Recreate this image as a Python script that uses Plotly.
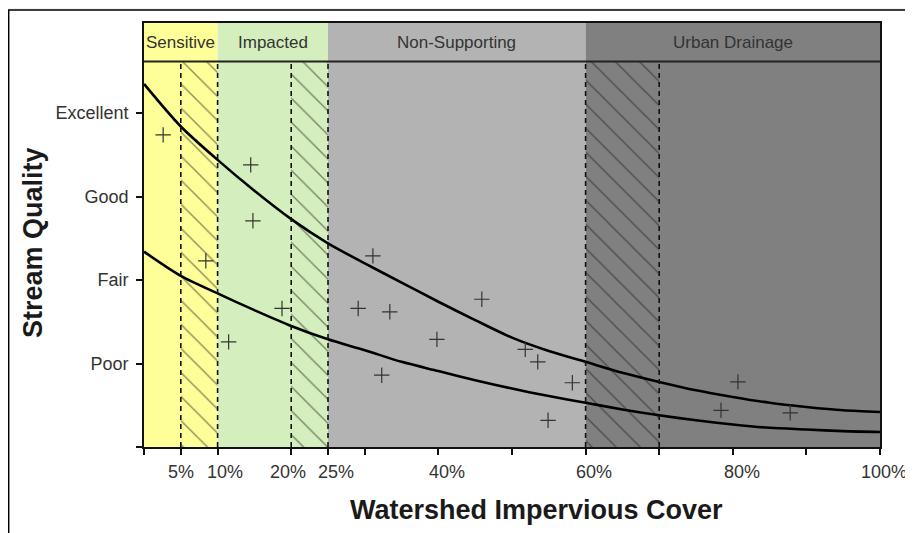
import plotly.graph_objects as go

# ---------------- data ----------------
ZONE_NAMES = ["Sensitive", "Impacted", "Non-Supporting", "Urban Drainage"]
ZONE_START = [0, 10, 25, 60]
ZONE_END = [10, 25, 60, 100]
ZONE_COLORS = ["#ffff99", "#d5eebd", "#b3b3b3", "#808080"]

TRANSITION_START = [5, 20, 60]
TRANSITION_END = [10, 25, 70]

QUALITY_LEVELS = ["", "Poor", "Fair", "Good", "Excellent"]
QUALITY_VALUES = [0, 1, 2, 3, 4]

X_TICK_VALUES = [0, 5, 10, 20, 25, 30, 40, 50, 60, 70, 80, 90, 100]
X_LABEL_VALUES = [5, 10, 20, 25, 40, 60, 80, 100]
X_LABEL_TEXT = ["5%", "10%", "20%", "25%", "40%", "60%", "80%", "100%"]

CURVE_X = [0, 5, 10, 15, 20, 25, 30, 35, 40, 45, 50, 55, 60, 65, 70, 75, 80, 85, 90, 95, 100]
UPPER_Y = [4.35, 3.84, 3.44, 3.07, 2.73, 2.44, 2.20, 1.97, 1.74, 1.52, 1.31, 1.15, 1.02,
           0.89, 0.78, 0.68, 0.60, 0.53, 0.48, 0.44, 0.42]
LOWER_Y = [2.34, 2.05, 1.84, 1.64, 1.45, 1.29, 1.16, 1.02, 0.91, 0.80, 0.70, 0.61, 0.53,
           0.45, 0.38, 0.32, 0.27, 0.23, 0.21, 0.19, 0.18]

SITE_X = [2.6, 14.5, 14.8, 8.4, 18.75, 11.5, 31.1, 29.1, 33.4, 32.3, 39.8, 45.9,
          51.8, 53.5, 58.2, 54.9, 80.7, 78.4, 87.8]
SITE_Y = [3.74, 3.38, 2.71, 2.23, 1.66, 1.26, 2.29, 1.66, 1.62, 0.86, 1.29, 1.77,
          1.17, 1.02, 0.77, 0.32, 0.78, 0.44, 0.41]

PLOT_TOP = 4.62     # top of data area (bottom of header band)
HEADER_TOP = 5.08   # top of header band

# ---------------- geometry (page has an 8px body margin) ----------------
OFF = 8
W, H = 913 - OFF, 533 - OFF
ML, MR, MT, MB = 144 - OFF, 33, 23 - OFF, 86
PW, PH = W - ML - MR, H - MT - MB


def px_x(p):  # window pixel -> paper x
    return (p - OFF - ML) / PW


def px_y(p):  # window pixel -> paper y
    return (H - MB - (p - OFF)) / PH


LABEL_SHIFTS = [0, 7, -3, 8, 9, 8, 9, 4]
FONT = "Liberation Sans, Arial, sans-serif"

fig = go.Figure()

# hatched transition zones
fig.add_trace(go.Bar(
    x=[(a + b) / 2 for a, b in zip(TRANSITION_START, TRANSITION_END)],
    y=[PLOT_TOP] * len(TRANSITION_START),
    width=[b - a for a, b in zip(TRANSITION_START, TRANSITION_END)],
    marker=dict(color="rgba(0,0,0,0)", line=dict(width=0),
                pattern=dict(shape="\\", fgcolor="#1a1a1a", bgcolor="rgba(0,0,0,0)",
                             size=17, solidity=0.08)),
    hoverinfo="skip", showlegend=False,
))

# curves
for ys in (UPPER_Y, LOWER_Y):
    fig.add_trace(go.Scatter(x=CURVE_X, y=ys, mode="lines",
                             line=dict(color="#000000", width=2.6, shape="spline", smoothing=0.8),
                             showlegend=False))

# sites
fig.add_trace(go.Scatter(x=SITE_X, y=SITE_Y, mode="markers",
                         marker=dict(symbol="cross-thin", size=11,
                                     line=dict(color="#333333", width=1.2)),
                         showlegend=False))

shapes = []
# outer white frame
shapes.append(dict(type="rect", xref="paper", yref="paper",
                   x0=px_x(8.7), x1=px_x(1000), y0=px_y(800), y1=px_y(10),
                   fillcolor="#ffffff", line=dict(color="#000000", width=1.5), layer="below"))

for s, e, c in zip(ZONE_START, ZONE_END, ZONE_COLORS):
    shapes.append(dict(type="rect", xref="x", yref="y", x0=s, x1=e, y0=0, y1=PLOT_TOP,
                       fillcolor=c, line=dict(width=0), layer="below"))
    shapes.append(dict(type="rect", xref="x", yref="y", x0=s, x1=e, y0=PLOT_TOP, y1=HEADER_TOP,
                       fillcolor=c, line=dict(width=0), layer="below"))

# dashed borders of transitions
for v in sorted(set(TRANSITION_START + TRANSITION_END)):
    shapes.append(dict(type="line", xref="x", yref="y", x0=v, x1=v, y0=0, y1=PLOT_TOP,
                       line=dict(color="#111111", width=1.6, dash="5px,4px")))

# header separator
shapes.append(dict(type="line", xref="x", yref="y", x0=0, x1=100, y0=PLOT_TOP, y1=PLOT_TOP,
                   line=dict(color="#222222", width=2)))

annotations = []
for s, e, n in zip(ZONE_START, ZONE_END, ZONE_NAMES):
    annotations.append(dict(x=(s + e) / 2, y=(PLOT_TOP + HEADER_TOP) / 2, xref="x", yref="y",
                            text=n, showarrow=False, xanchor="center", yanchor="middle",
                            font=dict(family=FONT, size=17, color="#333333")))

for v, t, sh in zip(X_LABEL_VALUES, X_LABEL_TEXT, LABEL_SHIFTS):
    annotations.append(dict(x=v, y=px_y(472), xref="x", yref="paper", text=t,
                            showarrow=False, xanchor="center", yanchor="middle", xshift=sh,
                            font=dict(family=FONT, size=18, color="#333333")))

annotations.append(dict(x=px_x(33), y=px_y(243), xref="paper", yref="paper",
                        text="<b>Stream Quality</b>", textangle=-90, showarrow=False,
                        xanchor="center", yanchor="middle",
                        font=dict(family=FONT, size=27, color="#1a1a1a")))
annotations.append(dict(x=px_x(536), y=px_y(510), xref="paper", yref="paper",
                        text="<b>Watershed Impervious Cover</b>", showarrow=False,
                        xanchor="center", yanchor="middle",
                        font=dict(family=FONT, size=27, color="#1a1a1a")))

fig.update_layout(
    width=W, height=H,
    margin=dict(l=ML, r=MR, t=MT, b=MB, pad=0),
    paper_bgcolor="#eef6ea",
    plot_bgcolor="rgba(0,0,0,0)",
    barmode="overlay",
    shapes=shapes,
    annotations=annotations,
    showlegend=False,
    font=dict(family=FONT, size=18, color="#333333"),
    xaxis=dict(range=[0, 100], tickvals=X_TICK_VALUES, showticklabels=False,
               ticks="outside", ticklen=6, tickwidth=1.5, tickcolor="#111111",
               showline=True, linecolor="#111111", linewidth=1.8, mirror=True,
               showgrid=False, zeroline=False, fixedrange=True),
    yaxis=dict(range=[0, HEADER_TOP], tickvals=QUALITY_VALUES, ticktext=QUALITY_LEVELS,
               ticks="outside", ticklen=6, tickwidth=1.5, tickcolor="#111111",
               showline=True, linecolor="#111111", linewidth=1.8, mirror=True,
               showgrid=False, zeroline=False, ticklabelstandoff=4,
               tickfont=dict(size=18, color="#333333"), fixedrange=True),
)

fig.write_html("out.html")
